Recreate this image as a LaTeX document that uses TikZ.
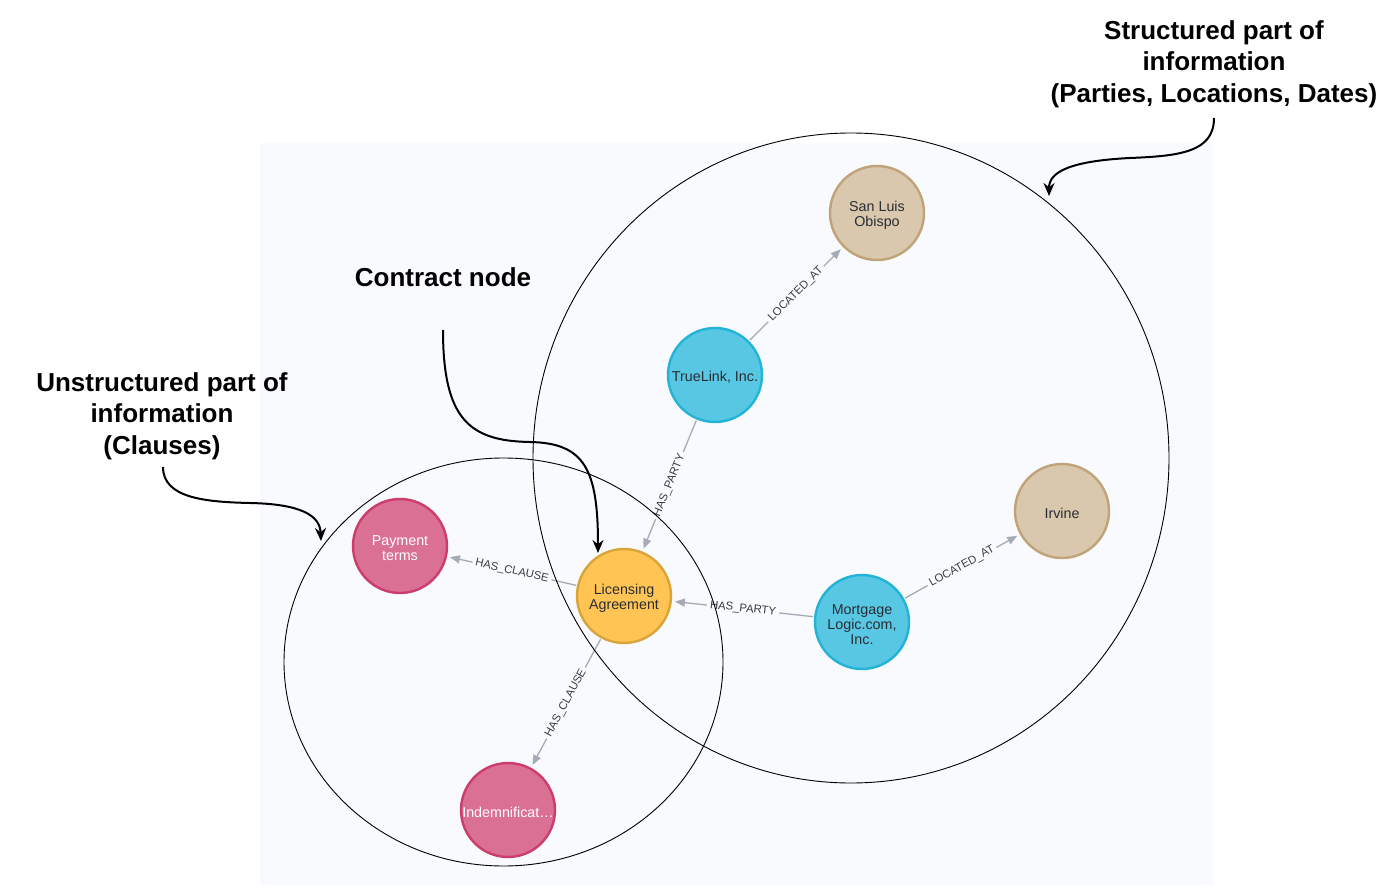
\documentclass[tikz,border=0pt]{standalone}
\usepackage{fontspec}
\setmainfont{Liberation Sans}
\usetikzlibrary{arrows.meta}
\definecolor{panelbg}{HTML}{F8FAFD}
\definecolor{blueF}{HTML}{57C7E3}
\definecolor{blueD}{HTML}{23B3D7}
\definecolor{pinkF}{HTML}{DA7194}
\definecolor{pinkD}{HTML}{CC3C6C}
\definecolor{tanF}{HTML}{D9C8AE}
\definecolor{tanD}{HTML}{C0A378}
\definecolor{yelF}{HTML}{FFC454}
\definecolor{yelD}{HTML}{D9A43A}
\definecolor{edgec}{HTML}{A5ABB6}
\definecolor{nodetext}{HTML}{2A2C34}
\definecolor{labtext}{HTML}{3A3C44}
\tikzset{
  gnode/.style={circle, minimum size=94pt, inner sep=0pt, line width=2.4pt},
  ntext/.style={align=center, inner sep=0pt, yshift=-2.5pt,
    font=\fontsize{14.3}{15}\selectfont, text=nodetext},
  wtext/.style={ntext, text=white},
  bluen/.style={gnode, fill=blueF, draw=blueD},
  pinkn/.style={gnode, fill=pinkF, draw=pinkD},
  tann/.style={gnode, fill=tanF, draw=tanD},
  yeln/.style={gnode, fill=yelF, draw=yelD},
  rel/.style={draw=edgec, line width=1.3pt, -{Triangle[length=10pt,width=8pt]}, shorten >=3pt, shorten <=1pt},
  elabel/.style={sloped, fill=panelbg, inner sep=3pt, font=\fontsize{11.3}{12}\selectfont, text=labtext},
  annot/.style={font=\bfseries\fontsize{26}{31.5}\selectfont, align=center, text=black},
  bigc/.style={draw=black, line width=0.9pt},
  pointer/.style={draw=black, line width=2pt, -{Stealth[length=13pt,width=11pt]}}
}
\begin{document}
\begin{tikzpicture}[x=1pt,y=-1pt]
\useasboundingbox (0,0) rectangle (1400,890);
\fill[white] (0,0) rectangle (1400,890);
\fill[panelbg] (260,143) rectangle (1213,886);

% graph nodes
\node[tann, label={[ntext]center:{San Luis\\Obispo}}] (slo) at (877,213) {};
\node[bluen, label={[ntext]center:{TrueLink, Inc.}}] (tl) at (715,375) {};
\node[yeln, label={[ntext]center:{Licensing\\Agreement}}] (la) at (624,596) {};
\node[pinkn, label={[wtext]center:{Payment\\terms}}] (pt) at (400,546) {};
\node[pinkn, label={[wtext]center:{Indemnificat…}}] (ind) at (508,810) {};
\node[bluen, label={[ntext]center:{Mortgage\\Logic.com,\\Inc.}}] (ml) at (862,622) {};
\node[tann, label={[ntext]center:{Irvine}}] (irv) at (1062,511) {};

% relationships
\draw[rel] (tl) -- node[elabel] {LOCATED\_AT} (slo);
\draw[rel] (tl) -- node[elabel] {HAS\_PARTY} (la);
\draw[rel] (la) -- node[elabel] {HAS\_CLAUSE} (pt);
\draw[rel] (la) -- node[elabel] {HAS\_CLAUSE} (ind);
\draw[rel] (ml) -- node[elabel] {HAS\_PARTY} (la);
\draw[rel] (ml) -- node[elabel] {LOCATED\_AT} (irv);

% grouping circles
\draw[bigc] (851,458) ellipse [x radius=318pt, y radius=325pt];
\draw[bigc] (503.5,662) ellipse [x radius=219.5pt, y radius=204pt];

% annotations
\node[annot] (st) at (1214,64) {Structured part of\\information\\(Parties, Locations, Dates)};
\node[annot] (cn) at (443,277) {Contract node};
\node[annot] (un) at (162,416) {Unstructured part of\\information\\(Clauses)};

\coordinate (s0) at (1214,118);
\coordinate (s1) at (1049,196);
\draw[pointer] (s0) .. controls (1214,152) and (1180,156) .. (1130,158)
  .. controls (1070,161) and (1049,172) .. (s1);

\coordinate (c0) at (443,330);
\coordinate (c1) at (598,553);
\draw[pointer] (c0) .. controls (443,420) and (470,441) .. (530,442)
  .. controls (585,443) and (598,470) .. (c1);

\coordinate (u0) at (163,467);
\coordinate (u1) at (321,541);
\draw[pointer] (u0) .. controls (163,498) and (205,502) .. (250,503)
  .. controls (300,504) and (320,515) .. (u1);
\end{tikzpicture}
\end{document}
